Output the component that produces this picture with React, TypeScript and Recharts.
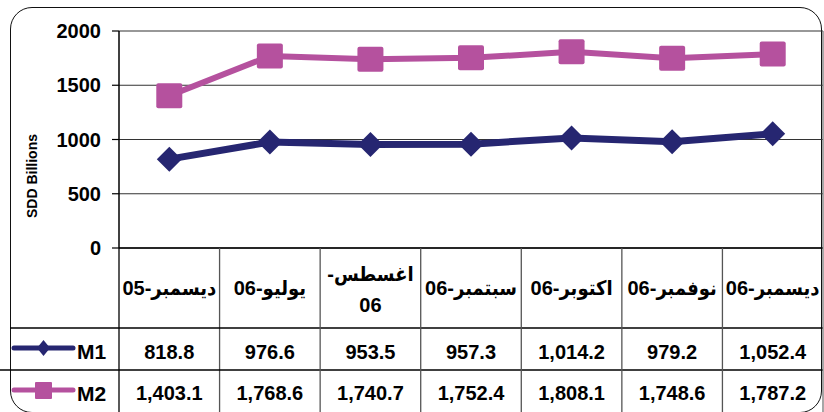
import React from 'react';
import { LineChart, Line, XAxis, YAxis, CartesianGrid } from 'recharts';

// ---- data ----
const categories = [
  'ديسمبر-05',
  'يوليو-06',
  '\u0627\u063A\u0633\u0637\u0633-\n06',
  'سبتمبر-06',
  'اكتوبر-06',
  'نوفمبر-06',
  'ديسمبر-06',
];
const m1Values = [818.8, 976.6, 953.5, 957.3, 1014.2, 979.2, 1052.4];
const m2Values = [1403.1, 1768.6, 1740.7, 1752.4, 1808.1, 1748.6, 1787.2];
const yTicks = [0, 500, 1000, 1500, 2000];
const seriesNames = ['M1', 'M2'];
const yAxisTitle = 'SDD Billions';

const data = categories.map((c, i) => ({ cat: c, m1: m1Values[i], m2: m2Values[i] }));

// ---- layout / style ----
const W = 824;
const H = 412;
const PLOT_L = 119;
const PLOT_R = 823;
const PLOT_T = 31;
const PLOT_B = 248;
const BAND = (PLOT_R - PLOT_L) / categories.length;
const NAVY = '#262671';
const PINK = '#b5519e';
const FONT = '"Liberation Sans", Arial, "DejaVu Sans", sans-serif';
const HEAD_FONT = '"Liberation Sans", Arial, "DejaVu Sans Condensed", "DejaVu Sans", sans-serif';

const fmt = (v: number) =>
  v.toLocaleString('en-US', { minimumFractionDigits: 1, maximumFractionDigits: 1 });

// a wrapped first line keeps its trailing hyphen on the visual right
const visualLine = (ln: string) => (ln.endsWith('-') ? '-' + ln.slice(0, -1) : ln);

const txt = {
  fontFamily: FONT,
  fontWeight: 700,
  fontSize: 20,
  fill: '#000',
} as const;

const headTxt = {
  fontFamily: HEAD_FONT,
  fontWeight: 700,
  fontSize: 20,
  fill: '#000',
} as const;

const TableTick = (props: any) => {
  const { x, payload } = props;
  const i: number = payload.index;
  const label = String(payload.value);
  const lines = label.split('\n');
  const half = BAND / 2;
  const last = categories.length - 1;
  return (
    <g>
      {lines.length === 1 ? (
        <text x={x} y={295} textAnchor="middle" {...headTxt}>
          {label}
        </text>
      ) : (
        lines.map((ln, k) => (
          <text key={k} x={x} y={281 + k * 31} textAnchor="middle" {...headTxt}>
            {visualLine(ln)}
          </text>
        ))
      )}
      <text x={x} y={359} textAnchor="middle" {...txt}>
        {fmt(m1Values[i])}
      </text>
      <text x={x} y={400} textAnchor="middle" {...txt}>
        {fmt(m2Values[i])}
      </text>
      <line
        x1={x + half}
        x2={x + half}
        y1={i === last ? PLOT_T : PLOT_B}
        y2={H}
        stroke={i === last ? '#777' : '#555'}
        strokeWidth={1.3}
      />
      {i === 0 && (
        <g>
          <line x1={x - half} x2={x - half} y1={PLOT_B} y2={H} stroke="#000" strokeWidth={1.3} />
          <line x1={10} x2={PLOT_R} y1={328} y2={328} stroke="#000" strokeWidth={1.3} />
          <line x1={0} x2={PLOT_R} y1={370} y2={370} stroke="#000" strokeWidth={1.3} />
          {/* legend keys */}
          <line x1={14} x2={73} y1={348} y2={348} stroke={NAVY} strokeWidth={5} strokeLinecap="round" />
          <polygon points="43.5,340 50,348 43.5,356 37,348" fill={NAVY} />
          <text x={77} y={359} {...txt} fontSize={21}>
            {seriesNames[0]}
          </text>
          <line x1={14} x2={73} y1={390} y2={390} stroke={PINK} strokeWidth={5} strokeLinecap="round" />
          <rect x={35} y={382} width={17} height={17} rx={1} fill={PINK} />
          <text x={77} y={401} {...txt} fontSize={21}>
            {seriesNames[1]}
          </text>
        </g>
      )}
    </g>
  );
};

const YTitle = () => (
  <text
    x={32}
    y={176}
    transform="rotate(-90 32 176)"
    textAnchor="middle"
    dominantBaseline="central"
    fontFamily={FONT}
    fontWeight={700}
    fontSize={14}
    fill="#000"
  >
    {yAxisTitle}
  </text>
);

const Diamond = (p: any) => {
  const { cx, cy, index } = p;
  if (cx == null || cy == null) return <g key={`m1-${index}`} />;
  const r = 12.5;
  return (
    <polygon
      key={`m1-${index}`}
      points={`${cx},${cy - r} ${cx + r},${cy} ${cx},${cy + r} ${cx - r},${cy}`}
      fill={NAVY}
    />
  );
};

const Square = (p: any) => {
  const { cx, cy, index } = p;
  if (cx == null || cy == null) return <g key={`m2-${index}`} />;
  return <rect key={`m2-${index}`} x={cx - 13} y={cy - 12.5} width={26} height={25} rx={2} fill={PINK} />;
};

export default function App() {
  return (
    <div
      style={{
        position: 'absolute',
        left: 0,
        top: 0,
        width: W,
        height: H,
        overflow: 'hidden',
        background: '#fff',
      }}
    >
      <div
        style={{
          position: 'absolute',
          left: 10,
          top: 7,
          width: 812,
          height: 406,
          boxSizing: 'border-box',
          border: '1.5px solid #111',
          borderRadius: 22,
        }}
      />
      <div style={{ position: 'absolute', left: 0, top: 0 }}>
        <LineChart width={W} height={H} data={data} margin={{ top: PLOT_T, right: W - PLOT_R, left: 10, bottom: 0 }}>
          <CartesianGrid vertical={false} stroke="#333" strokeWidth={1.2} />
          <XAxis
            dataKey="cat"
            height={H - PLOT_B}
            interval={0}
            tickLine={false}
            axisLine={{ stroke: '#000', strokeWidth: 1.5 }}
            tick={<TableTick />}
            padding={{ left: BAND / 2, right: BAND / 2 }}
          />
          <YAxis
            width={PLOT_L - 10}
            domain={[0, 2000]}
            ticks={yTicks}
            interval={0}
            tickSize={7}
            tickMargin={11}
            axisLine={{ stroke: '#000', strokeWidth: 1.5 }}
            tickLine={{ stroke: '#000', strokeWidth: 1.2 }}
            tick={{ fontFamily: FONT, fontWeight: 700, fontSize: 20, fill: '#000' }}
            label={<YTitle />}
          />
          <Line
            dataKey="m2"
            name={seriesNames[1]}
            stroke={PINK}
            strokeWidth={6}
            dot={Square}
            activeDot={false}
            isAnimationActive={false}
          />
          <Line
            dataKey="m1"
            name={seriesNames[0]}
            stroke={NAVY}
            strokeWidth={7}
            dot={Diamond}
            activeDot={false}
            isAnimationActive={false}
          />
        </LineChart>
      </div>
    </div>
  );
}
